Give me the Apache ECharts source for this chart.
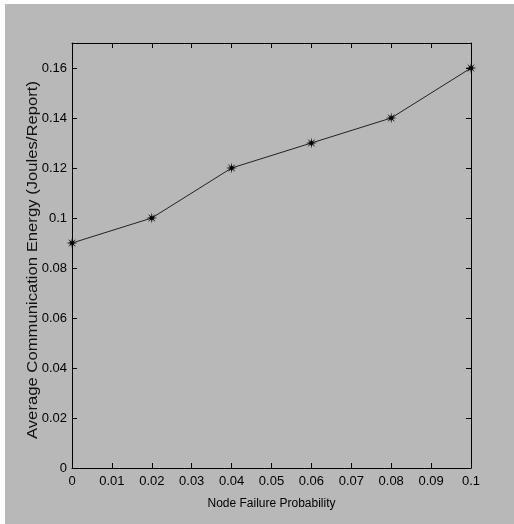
<!DOCTYPE html>
<html><head><meta charset="utf-8">
<script src="https://cdn.jsdelivr.net/npm/echarts@6/dist/echarts.min.js"></script>
<style>html,body{margin:0;padding:0;background:#fff;}#c{width:514px;height:524px;}</style>
</head><body><div id="c"></div>
<script>
var xValues = [0, 0.02, 0.04, 0.06, 0.08, 0.1];
var energy = [0.09, 0.10, 0.12, 0.13, 0.14, 0.16];
var xName = 'Node Failure Probability';
var yName = 'Average Communication Energy (Joules/Report)';

var star = 'path://M5,0 L1.4,0.6 L3.54,3.54 L0.6,1.4 L0,5 L-0.6,1.4 L-3.54,3.54 L-1.4,0.6 L-5,0 L-1.4,-0.6 L-3.54,-3.54 L-0.6,-1.4 L0,-5 L0.6,-1.4 L3.54,-3.54 L1.4,-0.6 Z';
var font = "'Liberation Sans Narrow', 'Liberation Sans', Arial, sans-serif";
var chart = echarts.init(document.getElementById('c'));
var axisLine = {show: true, onZero: false, lineStyle: {color: '#000', width: 1}};
var tick = {show: true, inside: true, length: 5, lineStyle: {color: '#000'}};
chart.setOption({
  animation: false,
  graphic: [
    {type: 'rect', shape: {x: 5, y: 4, width: 509, height: 520}, style: {fill: '#b8b8b8'}, z: -10},
    {type: 'text', x: 33, y: 260, rotation: Math.PI / 2, scaleX: 1.19,
     style: {text: yName, font: "14px 'Liberation Sans', Arial, sans-serif", fill: '#111',
             textAlign: 'center', textVerticalAlign: 'middle'}}
  ],
  grid: {left: 72, top: 43, width: 399, height: 425},
  xAxis: [{
    type: 'value', min: 0, max: 0.1, interval: 0.01, position: 'bottom',
    name: xName, nameLocation: 'middle', nameGap: 30,
    nameTextStyle: {color: '#000', fontSize: 12, fontFamily: font},
    axisLine: axisLine, axisTick: tick, splitLine: {show: false},
    axisLabel: {color: '#000', fontSize: 13, fontFamily: font, margin: 7}
  }, {
    type: 'value', min: 0, max: 0.1, interval: 0.01, position: 'top',
    axisLine: axisLine, axisTick: tick, splitLine: {show: false}, axisLabel: {show: false}
  }],
  yAxis: [{
    type: 'value', min: 0, max: 0.17, interval: 0.02, position: 'left',
    axisLine: axisLine, axisTick: tick, splitLine: {show: false},
    axisLabel: {color: '#000', fontSize: 13, fontFamily: font, margin: 5,
      formatter: function (v) { return v > 0.165 ? '' : String(+v.toFixed(2)); }}
  }, {
    type: 'value', min: 0, max: 0.17, interval: 0.02, position: 'right',
    axisLine: axisLine, axisTick: tick, splitLine: {show: false}, axisLabel: {show: false}
  }],
  series: [{
    type: 'line',
    data: xValues.map(function (x, i) { return [x, energy[i]]; }),
    symbol: star, symbolSize: 11,
    itemStyle: {color: '#000'},
    lineStyle: {color: '#222', width: 1},
    clip: false
  }]
});
</script></body></html>
